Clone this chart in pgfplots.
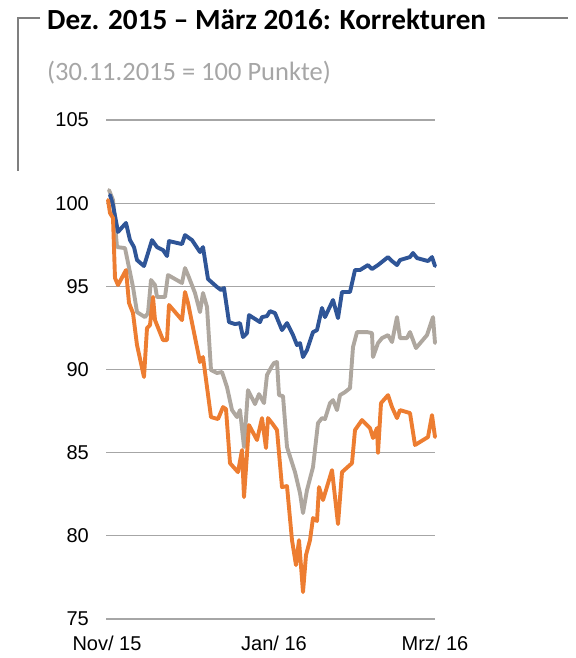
\documentclass[border=0pt]{standalone}
\usepackage{pgfplots}
\pgfplotsset{compat=1.18}
\usepackage{fontspec}
\setmainfont{Liberation Sans}
\newfontfamily\calibri{Carlito}
\definecolor{cblue}{HTML}{2F5597}
\definecolor{corange}{HTML}{ED7D31}
\definecolor{cgray}{HTML}{AEA79F}
\definecolor{gridgray}{HTML}{A6A6A6}
\definecolor{framegray}{HTML}{7F7F7F}
\definecolor{subgray}{HTML}{A6A6A6}
\begin{document}
\begin{tikzpicture}
\useasboundingbox (0,0) rectangle (576bp,-658bp);
\draw[framegray, line width=1.3bp] (40bp,-18bp) -- (18bp,-18bp) -- (18bp,-171bp);
\draw[framegray, line width=1.3bp] (498bp,-18bp) -- (568bp,-18bp);
\node[anchor=base west, inner sep=0pt, font=\calibri\bfseries\fontsize{29.2bp}{32bp}\selectfont] at (47bp,-29bp) {Dez. 2015 – März 2016: Korrekturen};
\node[anchor=base west, inner sep=0pt, text=subgray, font=\calibri\fontsize{26.5bp}{30bp}\selectfont] at (47bp,-80bp) {(30.11.2015 = 100 Punkte)};
\begin{axis}[
  at={(106bp,-619bp)}, anchor=south west,
  scale only axis, width=329bp, height=499bp,
  xmin=106, xmax=435, ymin=75, ymax=105,
  ytick={75,80,85,90,95,100,105},
  xtick={107,274,435}, xticklabels={Nov/ 15, Jan/ 16, Mrz/ 16},
  axis line style={draw=none}, major tick length=0pt,
  ymajorgrids, grid style={gridgray, line width=1.2bp},
  tick label style={font=\fontsize{20bp}{24bp}\selectfont},
  yticklabel style={anchor=east, inner sep=0pt, xshift=-17bp},
  xticklabel style={anchor=north, inner sep=0pt, yshift=-17bp},
  /pgf/number format/assume math mode=true,
  clip=false,
  every axis plot/.append style={line width=3.9bp, line join=round, line cap=round, mark=none},
]
\addplot[cgray] coordinates {
(109,100.79) (113,100.19) (117,97.36) (125,97.30) (133,94.96) (137,93.45) (145,93.15) (148,93.39)
(151,95.38) (155,95.08) (157,94.36) (165,94.36) (168,95.68) (182,95.20) (185,96.10) (188,95.68)
(195,94.60) (200,93.45) (203,94.60) (207,93.76) (211,89.97) (217,89.79) (222,89.85) (227,88.94)
(232,87.56) (237,87.14) (240,87.56) (244,85.34) (248,88.76) (255,87.92) (259,88.52) (264,87.98)
(267,89.67) (272,90.21) (274,90.39) (277,90.45) (279,88.46) (283,88.40) (287,85.34) (295,83.83)
(300,82.57) (303,81.37) (307,82.75) (313,84.13) (318,86.78) (322,87.08) (325,87.02) (330,87.98)
(333,88.16) (337,87.56) (340,88.46) (345,88.64) (350,88.88) (353,91.35) (357,92.25) (367,92.25)
(372,92.19) (373,90.75) (378,91.59) (382,91.89) (388,92.07) (392,91.65) (397,93.15) (400,91.89)
(407,91.89) (410,92.25) (416,91.29) (427,92.07) (433,93.15) (435,91.59)
};
\addplot[cblue] coordinates {
(110,100.49) (113,99.89) (118,98.27) (126,98.81) (130,97.78) (134,97.36) (137,96.58) (144,96.22)
(152,97.78) (157,97.36) (163,97.18) (167,96.82) (169,97.72) (182,97.54) (185,98.08) (192,97.78)
(200,97.06) (203,97.36) (208,95.44) (217,94.96) (221,94.78) (224,94.90) (229,92.85) (235,92.73)
(240,92.79) (243,91.95) (247,92.19) (249,93.27) (260,92.85) (262,93.15) (267,93.21) (270,93.51)
(275,93.39) (282,92.37) (287,92.79) (293,92.07) (297,91.47) (300,91.59) (303,90.75) (307,91.17)
(313,92.25) (317,92.37) (322,93.70) (325,93.15) (333,94.18) (338,93.09) (342,94.66) (350,94.66)
(355,95.98) (360,95.98) (368,96.28) (372,96.04) (378,96.28) (388,96.76) (392,96.52) (397,96.28)
(400,96.58) (410,96.76) (413,97.00) (417,96.70) (428,96.52) (432,96.76) (435,96.22)
};
\addplot[corange] coordinates {
(108,100.19) (110,99.41) (113,99.11) (115,95.50) (118,95.08) (126,95.98) (129,94.00) (133,93.39)
(137,91.47) (144,89.55) (147,92.49) (150,92.67) (153,94.36) (155,92.97) (163,91.77) (167,91.77)
(169,93.88) (182,92.97) (185,94.66) (188,94.00) (200,90.45) (203,90.75) (211,87.14) (218,87.02)
(223,87.74) (226,87.62) (230,84.37) (238,83.83) (242,85.16) (244,82.33) (249,86.66) (257,85.76)
(262,87.08) (266,85.28) (268,87.08) (272,86.78) (277,86.36) (282,82.93) (287,82.99) (292,79.74)
(296,78.24) (299,79.74) (303,76.62) (306,78.84) (310,79.74) (313,81.07) (317,80.89) (319,82.93)
(323,82.15) (332,83.95) (338,80.71) (342,83.83) (352,84.37) (355,86.36) (362,86.96) (370,86.48)
(373,85.88) (377,86.48) (378,84.98) (381,87.98) (388,88.46) (392,87.74) (397,87.08) (400,87.56)
(410,87.38) (415,85.46) (428,85.94) (432,87.26) (435,85.94)
};
\end{axis}
\end{tikzpicture}
\end{document}
